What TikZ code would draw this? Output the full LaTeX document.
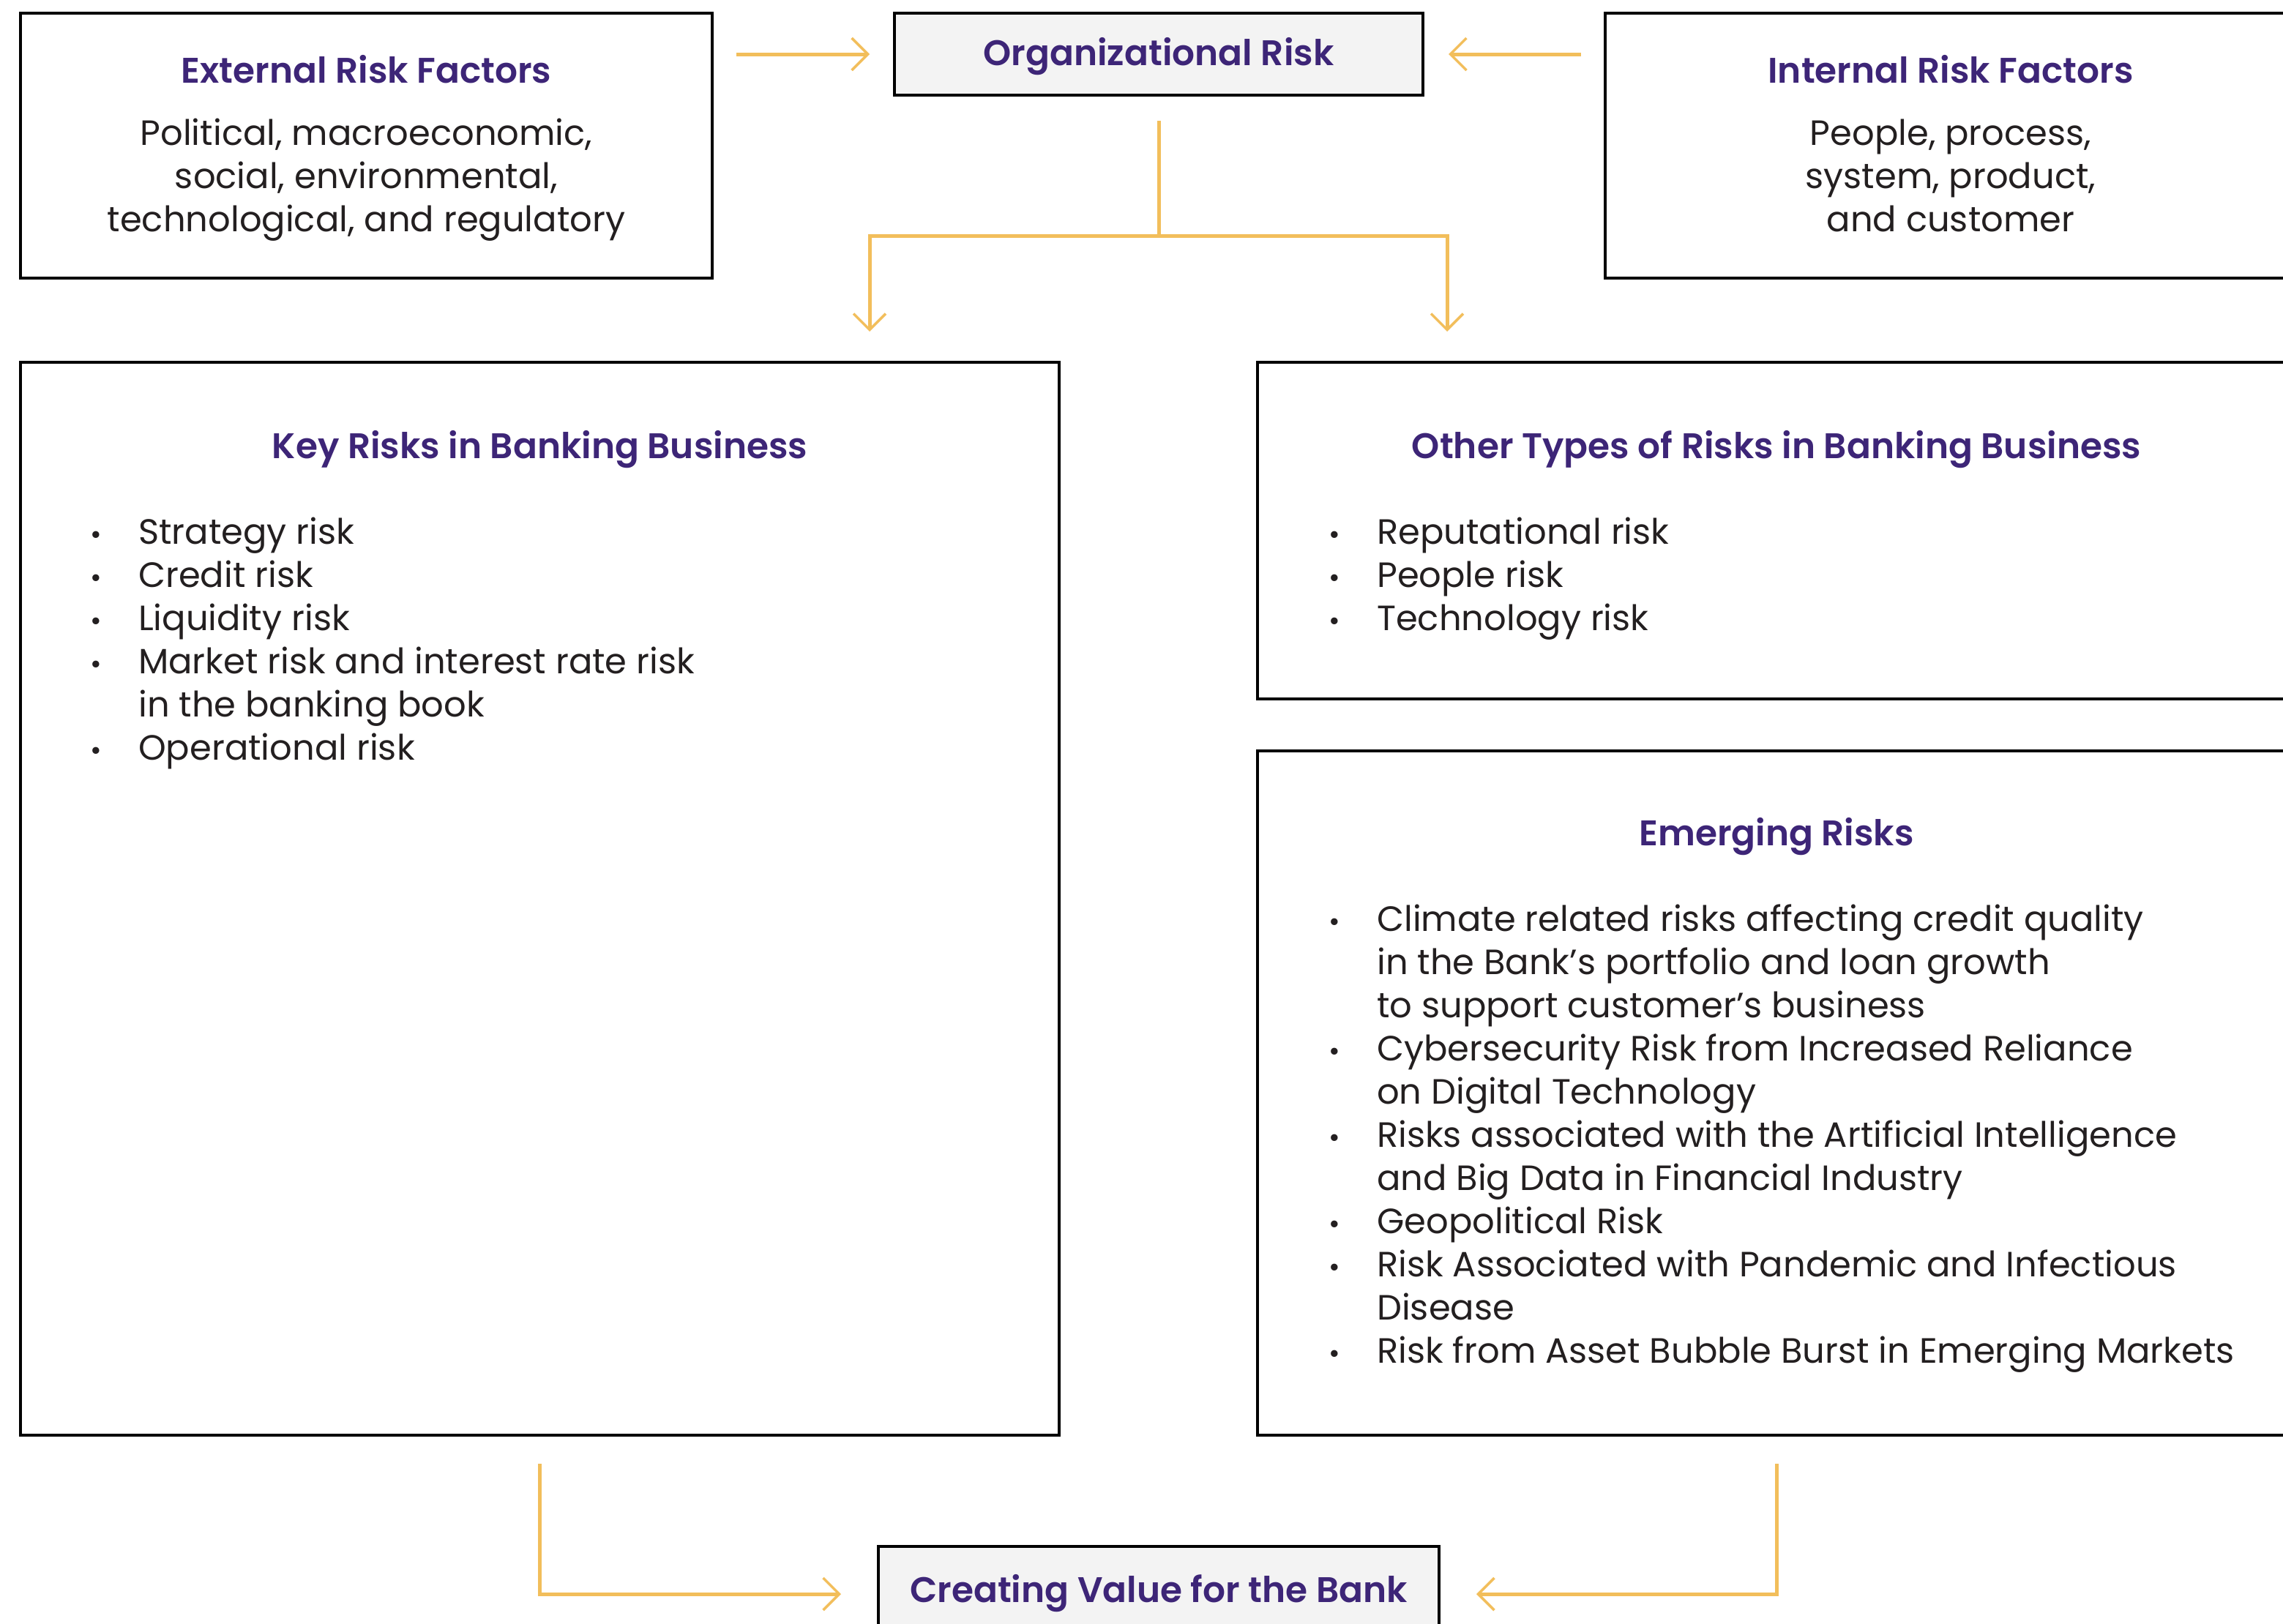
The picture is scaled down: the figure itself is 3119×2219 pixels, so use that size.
\documentclass[tikz,border=0pt]{standalone}
\usepackage{fontspec}
\setmainfont{Poppins}[BoldFont={* SemiBold}]
\usetikzlibrary{arrows.meta}
\definecolor{titlecol}{HTML}{3D2577}
\definecolor{linkcol}{HTML}{F2BE5B}
\definecolor{textcol}{HTML}{231F20}
\definecolor{softfill}{HTML}{F3F3F3}
\newcommand{\bul}{\makebox[58pt][l]{\makebox[0pt][c]{\raisebox{-0.5pt}{\fontsize{38}{38}\selectfont•}}}}
\begin{document}
\begin{tikzpicture}[x=1pt,y=-1pt,
  box/.style={draw=black,line width=3.5pt,fill=white,inner sep=0pt,outer sep=0pt},
  softbox/.style={box,fill=softfill},
  title/.style={anchor=base,inner sep=0pt,text=titlecol,font=\fontsize{48.6}{59}\selectfont\bfseries},
  body/.style={anchor=base,inner sep=0pt,text=textcol,font=\fontsize{48}{59}\selectfont},
  list/.style={anchor=base west,inner sep=0pt,text=textcol,font=\fontsize{48}{59}\selectfont},
  link/.style={draw=linkcol,line width=5pt},
  arr/.style={link,-{Straight Barb[length=22pt,width=44pt,line width=3.5pt]}}]
\clip (0,0) rectangle (3119,2219);
\fill[white] (0,0) rectangle (3119,2219);

% boxes
\node[box,minimum width=945pt,minimum height=362pt] (ext) at (500.5,199) {};
\node[softbox,minimum width=722pt,minimum height=112pt] (org) at (1583,74) {};
\node[box,minimum width=944pt,minimum height=362pt] (int) at (2665,199) {};
\node[box,minimum width=1419pt,minimum height=1466pt] (key) at (737.5,1228) {};
\node[box,minimum width=1418pt,minimum height=460pt] (oth) at (2427,725) {};
\node[box,minimum width=1418pt,minimum height=935pt] (emg) at (2427,1493.5) {};
\node[softbox,minimum width=766pt,minimum height=112pt] (cv) at (1583,2169) {};

% texts
\node[title] (orgt) at (1583,89) {Organizational Risk};
\node[title] (extt) at (500.5,113) {External Risk Factors};
\node[body] (extb) at (500.5,198) {\begin{tabular}[t]{@{}c@{}}Political, macroeconomic,\\ social, environmental,\\ technological, and regulatory\end{tabular}};
\node[title] (intt) at (2665,113) {Internal Risk Factors};
\node[body] (intb) at (2665,198) {\begin{tabular}[t]{@{}c@{}}People, process,\\ system, product,\\ and customer\end{tabular}};

\node[title] (keyt) at (737.5,626) {Key Risks in Banking Business};
\node[list] (keyl) at (131,743) {\begin{tabular}[t]{@{}l@{}l@{}}
\bul & Strategy risk\\
\bul & Credit risk\\
\bul & Liquidity risk\\
\bul & Market risk and interest rate risk\\
 & in the banking book\\
\bul & Operational risk
\end{tabular}};

\node[title] (otht) at (2427,626) {Other Types of Risks in Banking Business};
\node[list] (othl) at (1823,743) {\begin{tabular}[t]{@{}l@{}l@{}}
\bul & Reputational risk\\
\bul & People risk\\
\bul & Technology risk
\end{tabular}};

\node[title] (emgt) at (2427,1155) {Emerging Risks};
\node[list] (emgl) at (1823,1272) {\begin{tabular}[t]{@{}l@{}l@{}}
\bul & Climate related risks affecting credit quality\\
 & in the Bank’s portfolio and loan growth\\
 & to support customer’s business\\
\bul & Cybersecurity Risk from Increased Reliance\\
 & on Digital Technology\\
\bul & Risks associated with the Artificial Intelligence\\
 & and Big Data in Financial Industry\\
\bul & Geopolitical Risk\\
\bul & Risk Associated with Pandemic and Infectious\\
 & Disease\\
\bul & Risk from Asset Bubble Burst in Emerging Markets
\end{tabular}};

\node[title] (cvt) at (1583,2189) {Creating Value for the Bank};

% connectors
\draw[arr] ([xshift=33pt]ext.east |- org.west) -- ([xshift=-34pt]org.west);
\draw[arr] ([xshift=-33pt]int.west |- org.east) -- ([xshift=35pt]org.east);
\coordinate (split) at (1583,322);
\draw[link] ([yshift=-35pt]org.south) -- (split);
\draw[arr] (split) -| (1188,453);
\draw[arr] (split) -| (1977,453);
\draw[arr] ([yshift=-39pt]key.south) |- ([xshift=-51pt,yshift=-9pt]cv.west);
\draw[arr] ([yshift=-39pt]emg.south) |- ([xshift=51pt,yshift=-9pt]cv.east);
\end{tikzpicture}
\end{document}
